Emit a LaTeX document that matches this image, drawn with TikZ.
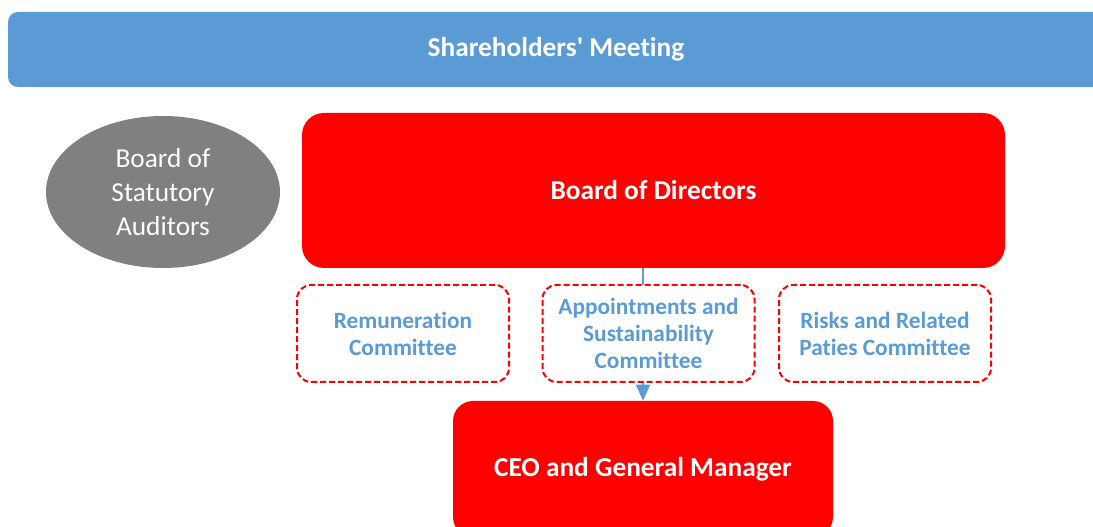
\documentclass[tikz,border=0pt]{standalone}
\usepackage{fontspec}
\setmainfont{Carlito}[Ligatures=NoCommon]
\usetikzlibrary{shapes.geometric,arrows.meta}
\definecolor{sbblue}{HTML}{5B9BD5}
\definecolor{sbred}{HTML}{FF0000}
\definecolor{sbgray}{HTML}{808080}
\begin{document}
\begin{tikzpicture}[x=0.75pt, y=-0.75pt,
  redbox/.style={fill=sbred, text=white, font=\bfseries\fontsize{20.5}{24}\selectfont, rounded corners=16.5pt, inner sep=0pt},
  committee/.style={draw=sbred, line width=1.5pt, dash pattern=on 4.5pt off 2.25pt, fill=white, rounded corners=10.5pt,
    minimum width=159pt, minimum height=72.75pt, align=center, text=sbblue, font=\bfseries\fontsize{17.5}{20.25}\selectfont, inner sep=0pt}]
\clip (0,0) rectangle (1093,527);

\node[fill=sbblue, rounded corners=7.5pt, minimum width=822pt, minimum height=56.25pt, text=white,
  font=\bfseries\fontsize{20.5}{24}\selectfont] (meeting) at (556, 49.5) {Shareholders\textquotesingle{} Meeting};
\node[ellipse, fill=sbgray, minimum width=175.5pt, minimum height=114pt, inner sep=0pt, align=center, text=white,
  font=\fontsize{20.5}{25.5}\selectfont] (auditors) at (163, 192) {Board of\\Statutory\\Auditors};
\node[redbox, minimum width=527.25pt, minimum height=116.25pt] (board) at (653.5, 190.5) {Board of Directors};
\node[redbox, minimum width=285pt, minimum height=102pt, rounded corners=15pt] (ceo) at (643, 469) {CEO and General Manager};

\draw[sbblue, line width=1.1pt, -{Triangle[width=10.5pt,length=12pt]}] (board.south -| ceo) -- (ceo);

\node[committee] (remuneration) at (403, 333.5) {Remuneration\\Committee};
\node[committee] (appointments) at (648.5, 333.5) {Appointments and\\Sustainability\\Committee};
\node[committee] (risks) at (885, 333.5) {Risks and Related\\Paties Committee};
\end{tikzpicture}
\end{document}
